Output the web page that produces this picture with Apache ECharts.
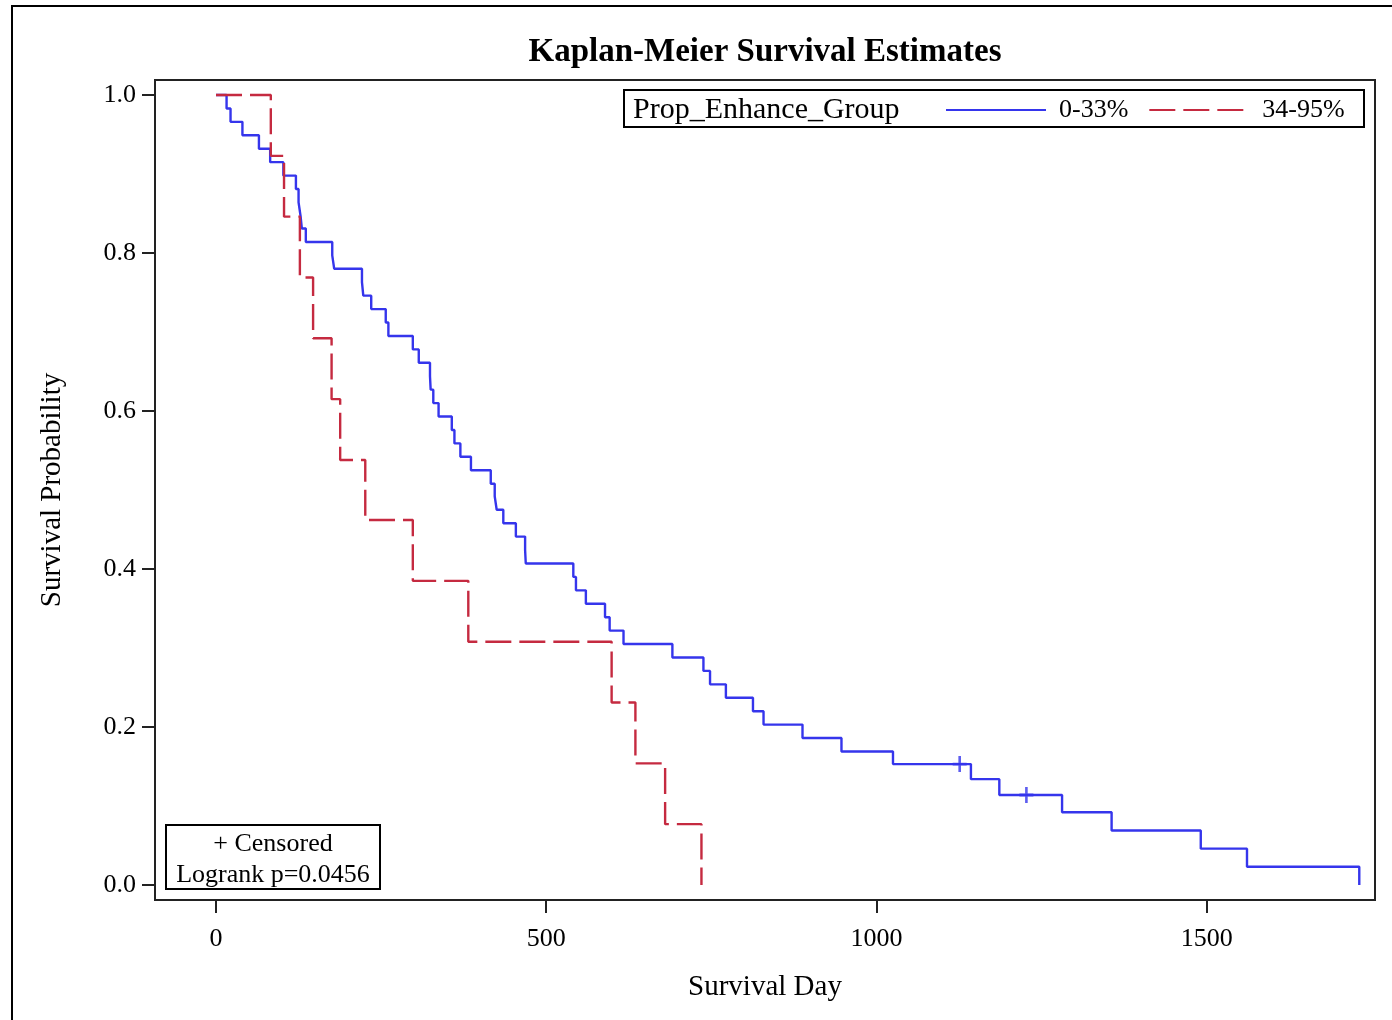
<!DOCTYPE html>
<html>
<head>
<meta charset="utf-8">
<script src="https://cdn.jsdelivr.net/npm/echarts@6/dist/echarts.min.js"></script>
<style>html,body{margin:0;padding:0;background:#fff}#c{width:1392px;height:1020px}</style>
</head>
<body>
<div id="c"></div>
<script>
// Group 0-33% (Kaplan-Meier step points)
const blueDays = [0, 16, 22, 40, 65, 82, 102, 121, 125, 128, 130, 136, 176, 179, 221, 223, 235, 257, 261, 298, 307,
  324, 325, 329, 337, 357, 361, 370, 386, 416, 422, 425, 435, 454, 468, 469, 541, 545, 560, 589, 596,
  617, 691, 738, 748, 772, 813, 829, 888, 947, 1025, 1143, 1186, 1281, 1356, 1491, 1561, 1731];
const blueSurv = [1.0, 0.983, 0.966, 0.949, 0.932, 0.915, 0.898, 0.881, 0.864, 0.847, 0.831, 0.814, 0.797, 0.780,
  0.763, 0.746, 0.729, 0.712, 0.695, 0.678, 0.661, 0.644, 0.627, 0.610, 0.593, 0.576, 0.559, 0.542, 0.525,
  0.508, 0.492, 0.475, 0.458, 0.441, 0.424, 0.407, 0.390, 0.373, 0.356, 0.339, 0.322, 0.305, 0.288, 0.271,
  0.254, 0.237, 0.220, 0.203, 0.186, 0.169, 0.153, 0.134, 0.114, 0.092, 0.069, 0.046, 0.023, 0.0];
// Group 34-95%
const redDays = [0, 83, 103, 127, 147, 175, 188, 226, 298, 382, 599, 635, 680, 735];
const redSurv = [1.0, 0.923, 0.846, 0.769, 0.692, 0.615, 0.538, 0.462, 0.385, 0.308, 0.231, 0.154, 0.077, 0.0];
// Censored observations (group 0-33%)
const censorDays = [1126, 1227];
const censorSurv = [0.153, 0.114];
// Tick labels
const xTicks = [0, 500, 1000, 1500];
const yTicks = [0, 0.2, 0.4, 0.6, 0.8, 1.0];
const seriesNames = ['0-33%', '34-95%'];

const FONT = "'Liberation Serif', 'Times New Roman', serif";
const BLUE = '#3535EC';
const RED = '#C52A40';

const zip = (a, b) => a.map((v, i) => [v, b[i]]);

const chart = echarts.init(document.getElementById('c'), null, {renderer: 'canvas'});
chart.setOption({
  animation: false,
  backgroundColor: '#fff',
  grid: {left: 155, top: 80, right: 17, bottom: 120, show: true, borderColor: '#222', borderWidth: 2, backgroundColor: 'transparent'},
  xAxis: {
    type: 'value', min: -92.36, max: 1754.8,
    name: 'Survival Day', nameLocation: 'middle', nameGap: 73,
    nameTextStyle: {fontFamily: FONT, fontSize: 29, color: '#000'},
    axisLine: {show: true, onZero: false, lineStyle: {color: '#222', width: 2}},
    axisTick: {show: true, length: 13, lineStyle: {color: '#222', width: 2}, customValues: xTicks},
    axisLabel: {fontFamily: FONT, fontSize: 26, color: '#000', margin: 26, customValues: xTicks,
      formatter: v => String(v)},
    splitLine: {show: false}
  },
  yAxis: {
    type: 'value', min: -0.019, max: 1.019,
    name: 'Survival Probability', nameLocation: 'middle', nameGap: 88, nameRotate: 90,
    nameTextStyle: {fontFamily: FONT, fontSize: 29, color: '#000'},
    axisLine: {show: true, onZero: false, lineStyle: {color: '#222', width: 2}},
    axisTick: {show: true, length: 13, lineStyle: {color: '#222', width: 2}, customValues: yTicks},
    axisLabel: {fontFamily: FONT, fontSize: 26, color: '#000', margin: 19, customValues: yTicks,
      formatter: v => Number(v).toFixed(1)},
    splitLine: {show: false}
  },
  legend: {
    data: seriesNames, left: 940, top: 92, itemWidth: 100, itemHeight: 24, itemGap: 20,
    itemStyle: {opacity: 0},
    textStyle: {fontFamily: FONT, fontSize: 26, color: '#000', padding: [0, 0, 0, 8]}
  },
  series: [
    {name: seriesNames[0], type: 'line', step: 'end', data: zip(blueDays, blueSurv), symbol: 'none',
      lineStyle: {color: BLUE, width: 2.4}, itemStyle: {color: BLUE}, z: 3},
    {name: seriesNames[1], type: 'line', step: 'end', data: zip(redDays, redSurv), symbol: 'none',
      lineStyle: {color: RED, width: 2.4, type: [26, 8]}, itemStyle: {color: RED}, z: 4},
    {name: 'Censored', type: 'scatter', data: zip(censorDays, censorSurv),
      symbol: 'path://M-1.3,-7H1.3V-1.3H7V1.3H1.3V7H-1.3V1.3H-7V-1.3H-1.3Z', symbolSize: [14, 16],
      itemStyle: {color: BLUE}, z: 5}
  ],
  graphic: [
    {type: 'rect', shape: {x: 12, y: 6, width: 1400, height: 1040}, style: {fill: 'none', stroke: '#000', lineWidth: 2}, z: 0},
    {type: 'text', x: 765, y: 52, style: {text: 'Kaplan-Meier Survival Estimates', font: 'bold 33px ' + FONT, fill: '#000', align: 'center', verticalAlign: 'middle'}},
    {type: 'rect', shape: {x: 624, y: 90, width: 740, height: 37}, style: {fill: '#fff', stroke: '#000', lineWidth: 2}, z: 1},
    {type: 'text', x: 633, y: 110, style: {text: 'Prop_Enhance_Group', font: '30px ' + FONT, fill: '#000', align: 'left', verticalAlign: 'middle'}, z: 2},
    {type: 'rect', shape: {x: 166, y: 825, width: 214, height: 64}, style: {fill: '#fff', stroke: '#000', lineWidth: 2}, z: 1},
    {type: 'text', x: 273, y: 844, style: {text: '+ Censored', font: '26px ' + FONT, fill: '#000', align: 'center', verticalAlign: 'middle'}, z: 2},
    {type: 'text', x: 273, y: 875, style: {text: 'Logrank p=0.0456', font: '26px ' + FONT, fill: '#000', align: 'center', verticalAlign: 'middle'}, z: 2}
  ]
});
</script>
</body>
</html>
